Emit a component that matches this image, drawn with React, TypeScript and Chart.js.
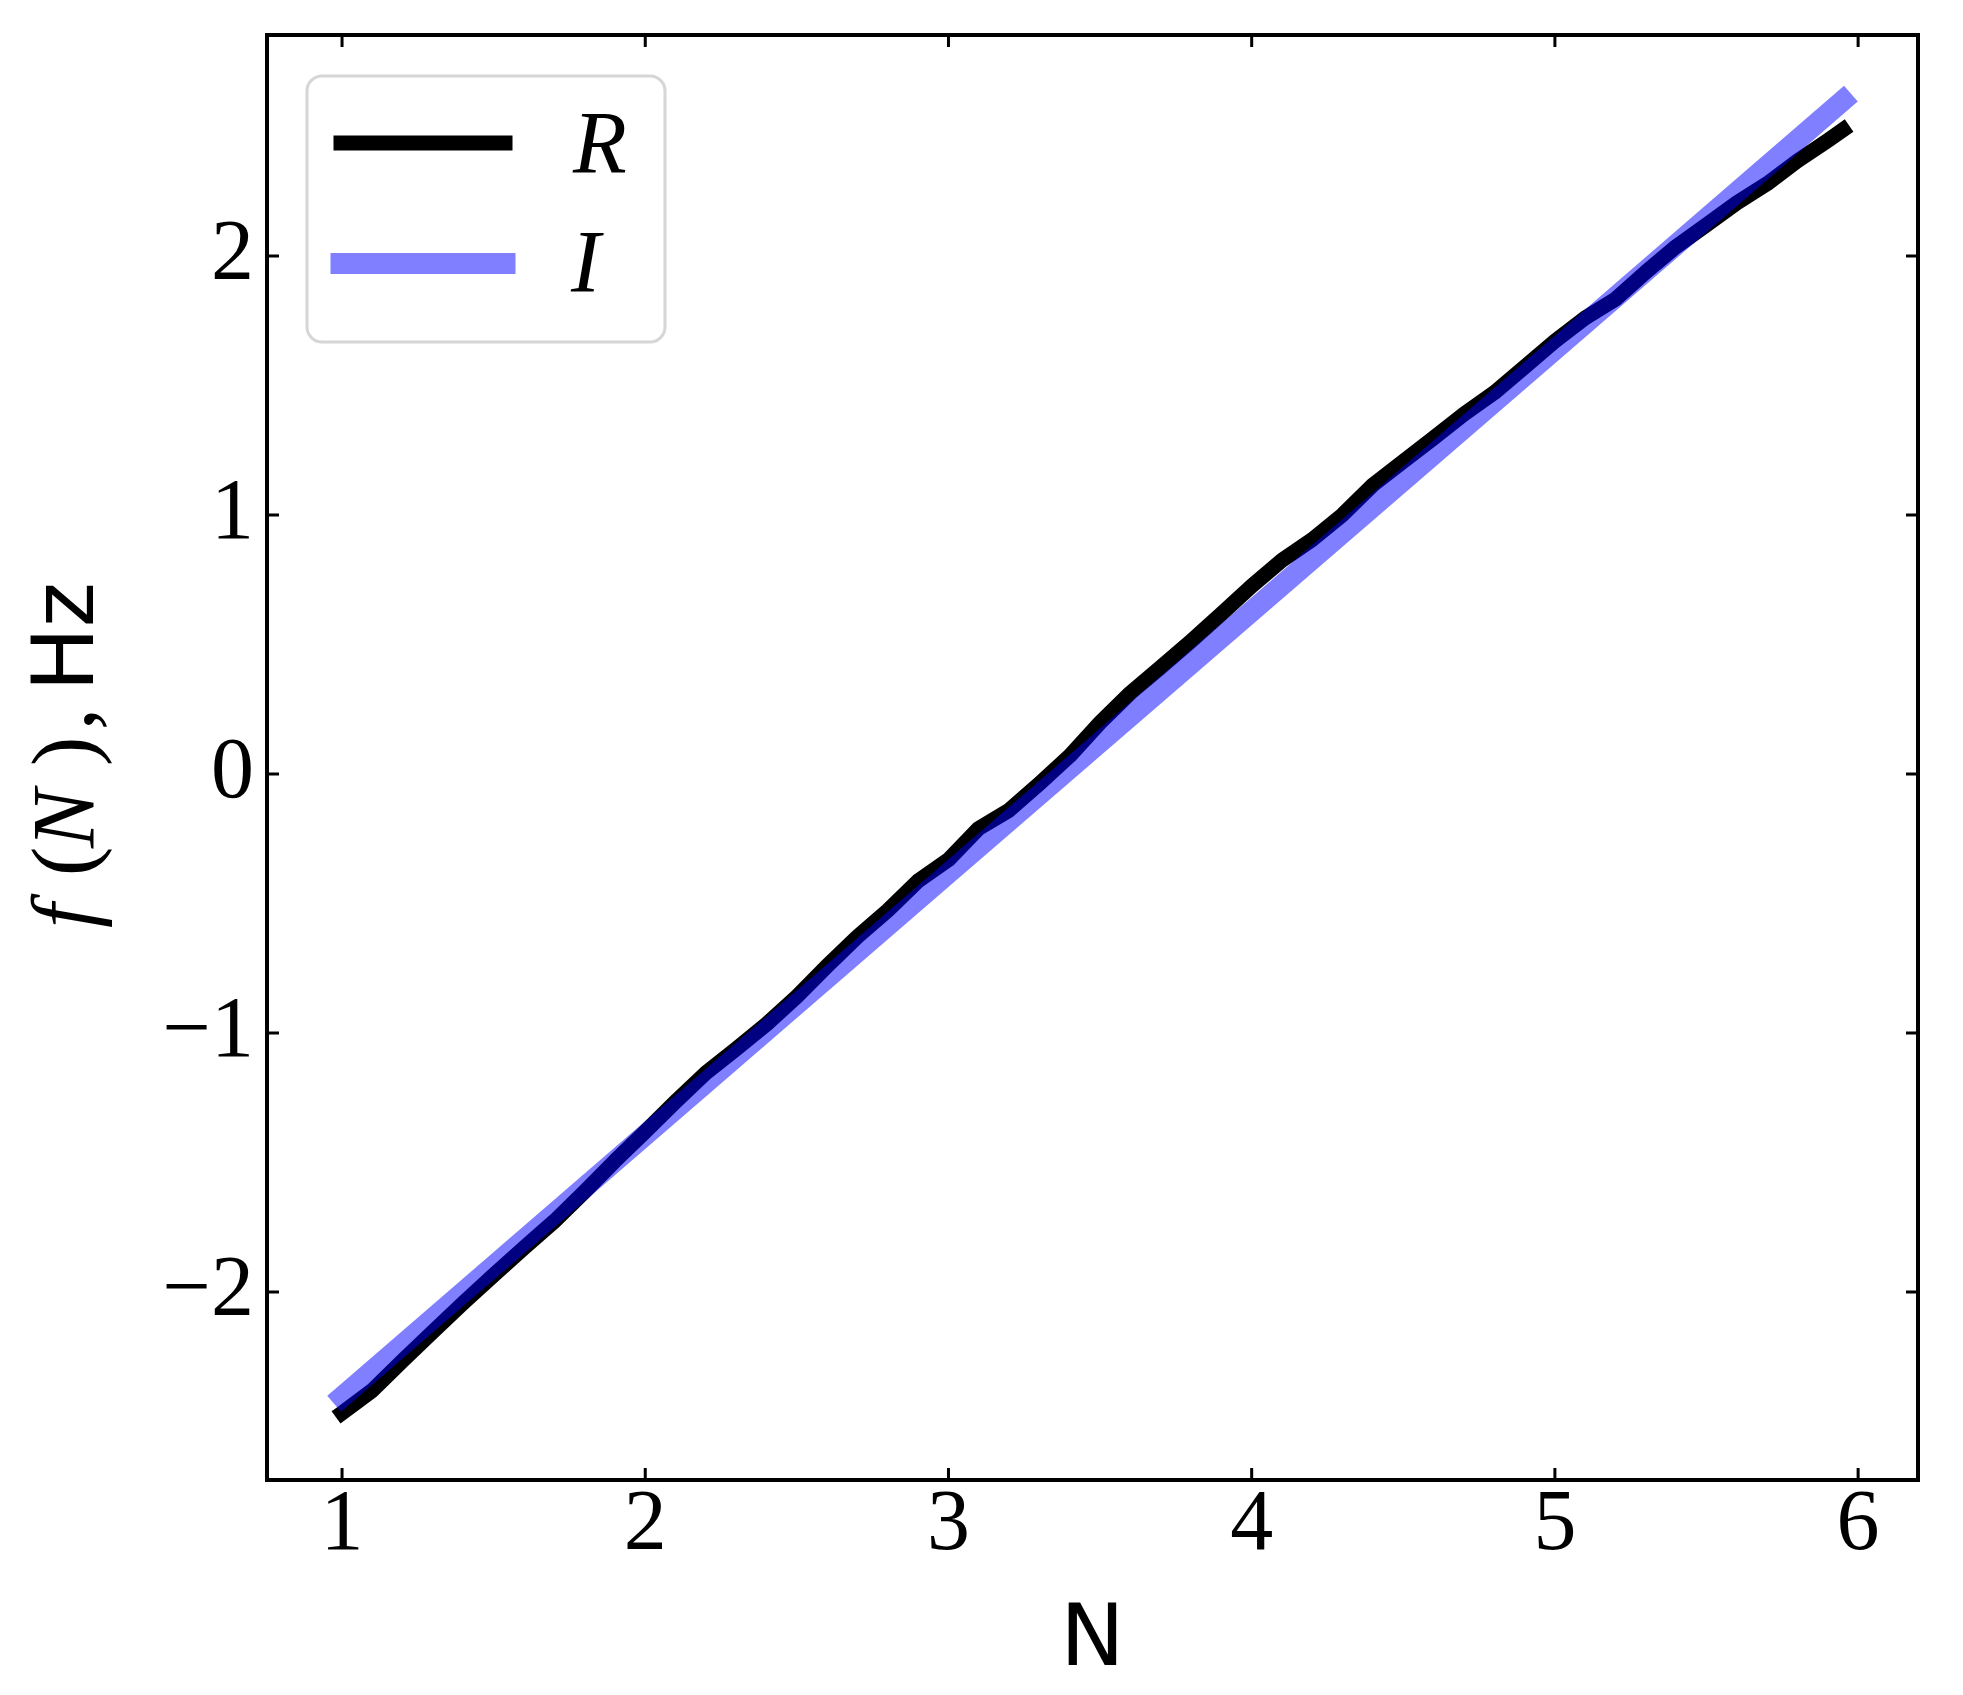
import React, { useEffect, useRef } from 'react';
import { Chart, registerables } from 'chart.js';

Chart.register(...registerables);

// ---- data ----
const xR = [1.0, 1.1, 1.2, 1.3, 1.4, 1.5, 1.6, 1.7, 1.8, 1.9,
  2.0, 2.1, 2.2, 2.3, 2.4, 2.5, 2.6, 2.7, 2.8, 2.9,
  3.0, 3.1, 3.2, 3.3, 3.4, 3.5, 3.6, 3.7, 3.8, 3.9,
  4.0, 4.1, 4.2, 4.3, 4.4, 4.5, 4.6, 4.7, 4.8, 4.9,
  5.0, 5.1, 5.2, 5.3, 5.4, 5.5, 5.6, 5.7, 5.8, 5.9, 5.95];
const rValues = [-2.467, -2.38, -2.265, -2.153, -2.042, -1.935, -1.83, -1.727, -1.613, -1.494,
  -1.381, -1.265, -1.154, -1.061, -0.966, -0.859, -0.741, -0.628, -0.527, -0.413,
  -0.331, -0.21, -0.14, -0.037, 0.07, 0.198, 0.313, 0.412, 0.513, 0.618,
  0.726, 0.825, 0.905, 1.001, 1.116, 1.207, 1.297, 1.389, 1.472, 1.571,
  1.671, 1.761, 1.833, 1.938, 2.036, 2.12, 2.205, 2.279, 2.367, 2.446, 2.487];
const xI = [1, 2, 3, 4, 5, 5.95];
const iValues = [-2.405, -1.394, -0.383, 0.628, 1.639, 2.6];

const xTickValues = [1, 2, 3, 4, 5, 6];
const yTickValues = [-2, -1, 0, 1, 2];
const xLimits = [0.7525, 6.1975];
const yLimits = [-2.726, 2.853];
const seriesLabels = ['R', 'I'];
const xTitle = 'N';

const SERIF = '"Liberation Serif", "DejaVu Serif", serif';
const SANS = '"DejaVu Sans", sans-serif';

const decorPlugin = {
  id: 'decor',
  afterDraw(chart: any) {
    const { ctx, chartArea } = chart;
    const { left, right, top, bottom } = chartArea;
    const xs = chart.scales.x;
    const ys = chart.scales.y;
    ctx.save();
    // tick marks (inward, all four sides)
    ctx.strokeStyle = '#000';
    ctx.lineWidth = 3;
    ctx.lineCap = 'butt';
    const tl = 12;
    xTickValues.forEach((v) => {
      const px = xs.getPixelForValue(v);
      ctx.beginPath();
      ctx.moveTo(px, bottom); ctx.lineTo(px, bottom - tl);
      ctx.moveTo(px, top); ctx.lineTo(px, top + tl);
      ctx.stroke();
    });
    yTickValues.forEach((v) => {
      const py = ys.getPixelForValue(v);
      ctx.beginPath();
      ctx.moveTo(left, py); ctx.lineTo(left + tl, py);
      ctx.moveTo(right, py); ctx.lineTo(right - tl, py);
      ctx.stroke();
    });
    // frame
    ctx.lineWidth = 4;
    ctx.strokeRect(left, top, right - left, bottom - top);

    // x title
    ctx.fillStyle = '#000';
    ctx.font = `86px ${SANS}`;
    ctx.textAlign = 'center';
    ctx.textBaseline = 'alphabetic';
    ctx.fillText(xTitle, (left + right) / 2, 1665);

    // y title (rotated, reads bottom to top)
    const mathFont = `88px ${SERIF}`;
    const mathItalic = `italic 88px ${SERIF}`;
    const sansFont = `86px ${SANS}`;
    ctx.translate(93, 932);
    ctx.rotate(-Math.PI / 2);
    ctx.textAlign = 'left';
    const segs = [
      { t: 'f', f: mathItalic, at: 4 },
      { t: '(', f: mathFont, at: 56 },
      { t: 'N', f: mathItalic, at: 84 },
      { t: ')', f: mathFont, at: 166 },
      { t: ',', f: mathFont, at: 202 },
    ];
    segs.forEach((s) => {
      ctx.font = s.f;
      ctx.fillText(s.t, s.at, 0);
    });
    ctx.font = sansFont;
    const wHz = ctx.measureText('Hz').width;
    ctx.fillText('Hz', 350 - wHz, 0);
    ctx.setTransform(1, 0, 0, 1, 0, 0);

    // legend
    const bx = left + 40, by = top + 41, bw = 358, bh = 266, r = 15;
    ctx.beginPath();
    ctx.moveTo(bx + r, by);
    ctx.arcTo(bx + bw, by, bx + bw, by + bh, r);
    ctx.arcTo(bx + bw, by + bh, bx, by + bh, r);
    ctx.arcTo(bx, by + bh, bx, by, r);
    ctx.arcTo(bx, by, bx + bw, by, r);
    ctx.closePath();
    ctx.fillStyle = 'rgba(255,255,255,0.8)';
    ctx.fill();
    ctx.strokeStyle = '#d6d6d6';
    ctx.lineWidth = 3;
    ctx.stroke();

    const ds = chart.data.datasets;
    const rows = [
      { y: by + 67, ds: ds[1] },
      { y: by + 187.5, ds: ds[0] },
    ];
    rows.forEach((row) => {
      ctx.beginPath();
      ctx.strokeStyle = row.ds.borderColor;
      ctx.lineWidth = row.ds.borderWidth;
      ctx.lineCap = 'square';
      ctx.moveTo(bx + 34, row.y);
      ctx.lineTo(bx + 198, row.y);
      ctx.stroke();
    });
    ctx.fillStyle = '#000';
    ctx.font = `italic 88px ${SERIF}`;
    ctx.textAlign = 'left';
    ctx.fillText(seriesLabels[0], bx + 266, by + 96);
    ctx.fillText(seriesLabels[1], bx + 264, by + 215);
    ctx.restore();
  },
};

export default function App() {
  const ref = useRef<HTMLCanvasElement | null>(null);
  useEffect(() => {
    if (!ref.current) return;
    const chart = new Chart(ref.current, {
      type: 'line',
      data: {
        datasets: [
          {
            label: seriesLabels[1],
            data: xI.map((x, i) => ({ x, y: iValues[i] })),
            borderColor: 'rgba(0,0,255,0.5)',
            borderWidth: 21,
            pointRadius: 0,
            tension: 0,
            borderCapStyle: 'square',
            borderJoinStyle: 'round',
            order: 0,
          },
          {
            label: seriesLabels[0],
            data: xR.map((x, i) => ({ x, y: rValues[i] })),
            borderColor: '#000000',
            borderWidth: 15,
            pointRadius: 0,
            tension: 0,
            borderCapStyle: 'square',
            borderJoinStyle: 'round',
            order: 1,
          },
        ],
      },
      options: {
        responsive: false,
        animation: false,
        events: [],
        layout: { padding: { top: 35, right: 45, left: 0, bottom: 0 } },
        plugins: { legend: { display: false }, tooltip: { enabled: false } },
        scales: {
          x: {
            type: 'linear',
            min: xLimits[0],
            max: xLimits[1],
            grid: { display: false, drawTicks: false },
            border: { display: false },
            afterBuildTicks: (s: any) => { s.ticks = xTickValues.map((v) => ({ value: v })); },
            afterFit: (s: any) => { s.height = 215; s.paddingLeft = 0; s.paddingRight = 0; },
            ticks: {
              padding: -5,
              color: '#000',
              maxRotation: 0,
              font: { family: SERIF, size: 86 },
              callback: (v: any) => (v < 0 ? '\u2212' + Math.abs(v) : String(v)),
            },
          },
          y: {
            type: 'linear',
            min: yLimits[0],
            max: yLimits[1],
            grid: { display: false, drawTicks: false },
            border: { display: false },
            afterBuildTicks: (s: any) => { s.ticks = yTickValues.map((v) => ({ value: v })); },
            afterFit: (s: any) => { s.width = 267; s.paddingTop = 0; s.paddingBottom = 0; },
            ticks: {
              padding: 13,
              color: '#000',
              font: { family: SERIF, size: 86 },
              callback: (v: any) => (v < 0 ? '\u2212' + Math.abs(v) : String(v)),
            },
          },
        },
      },
      plugins: [decorPlugin],
    } as any);
    return () => chart.destroy();
  }, []);
  return (
    <div style={{ position: 'absolute', left: 0, top: 0, width: 1963, height: 1695, background: '#fff' }}>
      <canvas ref={ref} width={1963} height={1695} style={{ display: 'block' }} />
    </div>
  );
}
